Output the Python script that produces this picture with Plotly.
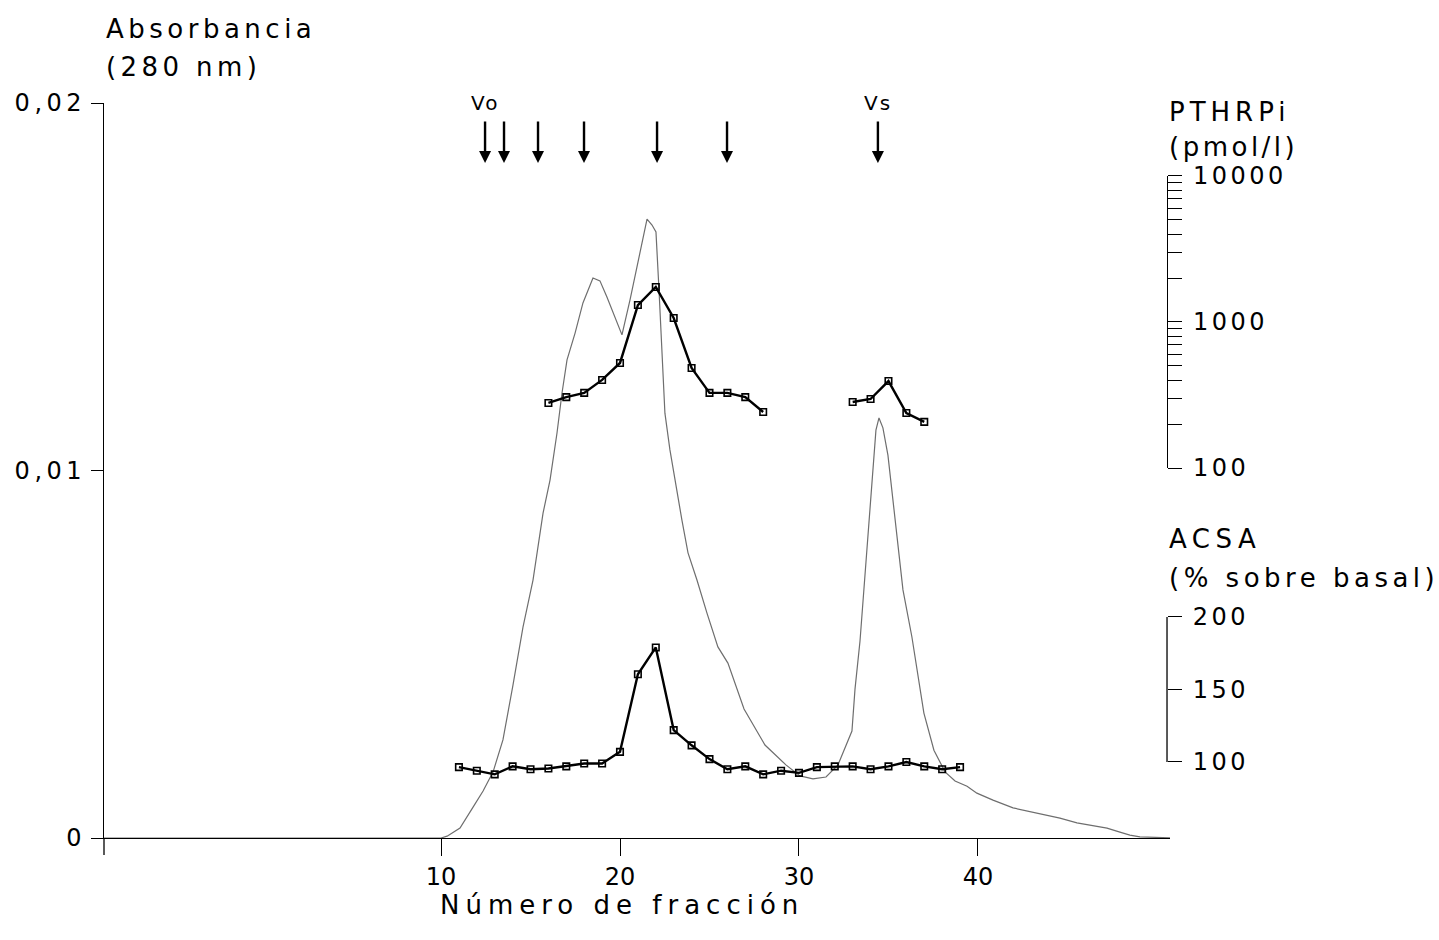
import plotly.graph_objects as go

FONT = "DejaVu Sans"


def spaced(text, ls):
    """Wrap text in a span with extra letter spacing."""
    return f'<span style="letter-spacing:{ls}px">{text}</span>'


# Absorbance (280 nm) profile along the elution
abs_fraction = [-9, 10.0, 10.34, 11.06, 11.79, 12.35, 12.91, 13.46, 14.02, 14.58,
                15.14, 15.70, 16.09, 16.48, 16.76, 17.04, 17.49, 17.93, 18.49, 18.88,
                19.27, 19.72, 20.11, 20.56, 21.01, 21.34, 21.51, 21.79, 22.01, 22.18,
                22.35, 22.51, 22.79, 23.07, 23.46, 23.80, 24.30, 24.86, 25.47, 26.03,
                26.93, 28.10, 29.27, 30.06, 30.78, 31.51, 32.18, 32.96, 33.13, 33.41,
                33.74, 34.08, 34.30, 34.47, 34.69, 34.97, 35.36, 35.81, 36.31, 36.98,
                37.54, 38.16, 38.72, 39.39, 39.94, 40.84, 41.96, 43.63, 44.58, 45.53,
                46.42, 47.21, 47.93, 48.49, 49.05, 51]
abs_value = [0, 0, 0.00005, 0.00027, 0.00084, 0.00128, 0.0018, 0.00267, 0.00416, 0.00574,
             0.00702, 0.00884, 0.00974, 0.01102, 0.01211, 0.01301, 0.01374, 0.01456, 0.01524, 0.01516,
             0.01472, 0.01415, 0.01369, 0.01464, 0.01567, 0.01649, 0.01684, 0.01668, 0.01649, 0.01491,
             0.0132, 0.01156, 0.01056, 0.00974, 0.00865, 0.00776, 0.00702, 0.00612, 0.0052, 0.00476,
             0.00351, 0.00253, 0.00199, 0.00169, 0.00161, 0.00166, 0.00199, 0.00291, 0.00405, 0.00536,
             0.00756, 0.00974, 0.0111, 0.01143, 0.01116, 0.01042, 0.00865, 0.00675, 0.00547, 0.0034,
             0.00239, 0.0018, 0.00155, 0.00141, 0.00122, 0.00103, 0.00082, 0.00063, 0.00054, 0.00041,
             0.00033, 0.00027, 0.00016, 0.00008, 0.00003, 0]

# Immunoreactive PTHrP (pmol/l), two groups of fractions
pthrp_fraction_a = [16, 17, 18, 19, 20, 21, 22, 23, 24, 25, 26, 27, 28]
pthrp_value_a = [279, 306, 327, 401, 524, 1306, 1738, 1065, 484, 327, 327, 306, 242]
pthrp_fraction_b = [33, 34, 35, 36, 37]
pthrp_value_b = [283, 297, 394, 238, 207]

# Adenylate cyclase stimulating activity (% over basal)
acsa_fraction = list(range(11, 40))
acsa_value = [96.5, 94, 91.5, 97, 95, 95.5, 97, 99, 99, 107,
              160.5, 179, 122, 111.5, 102, 95, 97, 91.5, 94, 92.5,
              96.5, 97, 97, 95, 97, 100, 97, 95, 96.5]

# Column calibration markers
marker_fraction = [12.46, 13.52, 15.42, 17.99, 22.07, 25.98, 34.41]
marker_tip = 0.01837
marker_tail = 0.01954
void_label = ("Vo", 12.46)
salt_label = ("Vs", 34.41)

abs_ticks = [0, 0.01, 0.02]
abs_ticktext = ["0", "0,01", "0,02"]
frac_ticks = [10, 20, 30, 40]
pthrp_ticks = [100, 200, 300, 400, 500, 600, 700, 800, 900,
               1000, 2000, 3000, 4000, 5000, 6000, 7000, 8000, 9000, 10000]
pthrp_major = {100: "100", 1000: "1000", 10000: "10000"}
acsa_ticks = [100, 150, 200]

fig = go.Figure()

fig.add_trace(go.Scatter(x=abs_fraction, y=abs_value, mode="lines",
                         line=dict(color="#6e6e6e", width=1.2),
                         xaxis="x", yaxis="y", hoverinfo="skip"))

for fx, fy in [(pthrp_fraction_a, pthrp_value_a), (pthrp_fraction_b, pthrp_value_b)]:
    fig.add_trace(go.Scatter(x=fx, y=fy, mode="lines+markers",
                             line=dict(color="black", width=2.4),
                             marker=dict(symbol="square-open", size=6.5, color="black",
                                         line=dict(width=1.6, color="black")),
                             xaxis="x", yaxis="y2"))

fig.add_trace(go.Scatter(x=acsa_fraction, y=acsa_value, mode="lines+markers",
                         line=dict(color="black", width=2.4),
                         marker=dict(symbol="square-open", size=6.5, color="black",
                                     line=dict(width=1.6, color="black")),
                         xaxis="x", yaxis="y3"))

tickfont = dict(family=FONT, size=24, color="black")

fig.update_layout(
    width=1439, height=940,
    margin=dict(l=104, r=269, t=103, b=102),
    plot_bgcolor="rgba(0,0,0,0)", paper_bgcolor="white",
    showlegend=False,
    font=dict(family=FONT, color="black"),
    xaxis=dict(range=[-8.83, 50.73], tickvals=frac_ticks,
               ticktext=[str(v) for v in frac_ticks],
               ticks="outside", ticklen=17, tickwidth=1.3, tickcolor="black",
               showline=True, linecolor="black", linewidth=1.3,
               showgrid=False, zeroline=False, tickfont=tickfont, anchor="y"),
    yaxis=dict(range=[0, 0.02], tickvals=abs_ticks,
               ticktext=[spaced(t, 4.5) for t in abs_ticktext],
               ticks="outside", ticklen=12, tickwidth=1.3, tickcolor="black",
               showline=True, linecolor="black", linewidth=1.3,
               showgrid=False, zeroline=False, tickfont=tickfont),
    yaxis2=dict(domain=[0.5034, 0.9007], type="log", range=[2, 4],
                anchor="free", position=0.9972, side="right",
                tickvals=pthrp_ticks,
                ticktext=[spaced(pthrp_major.get(v, ""), 3.5) for v in pthrp_ticks],
                ticks="outside", ticklen=14, tickwidth=1.3, tickcolor="black",
                ticklabelstandoff=6,
                showline=True, linecolor="black", linewidth=1.3,
                showgrid=False, zeroline=False, tickfont=tickfont),
    yaxis3=dict(domain=[0, 0.3007], range=[47.59, 200],
                anchor="free", position=0.9972, side="right",
                tickvals=acsa_ticks,
                ticktext=[spaced(str(v), 3.5) for v in acsa_ticks],
                ticks="outside", ticklen=14, tickwidth=1.3, tickcolor="black",
                ticklabelstandoff=6,
                showline=False, showgrid=False, zeroline=False, tickfont=tickfont),
)

# ACSA axis spine only over its 100-200 span
fig.add_shape(type="line", xref="paper", yref="y3", x0=0.9972, x1=0.9972,
              y0=100, y1=200, line=dict(color="black", width=1.3))
# left spine continues a little below zero
fig.add_shape(type="line", xref="paper", yref="paper", x0=0, x1=0,
              y0=0, y1=-17 / 735, line=dict(color="black", width=1.3))

# calibration arrows
for f in marker_fraction:
    fig.add_annotation(x=f, y=marker_tip, ax=f, ay=marker_tail,
                       xref="x", yref="y", axref="x", ayref="y",
                       text="", showarrow=True, arrowhead=2, arrowsize=1.0,
                       arrowwidth=2.4, arrowcolor="black", standoff=0)
for label, f in (void_label, salt_label):
    fig.add_annotation(x=f, y=0.02, xref="x", yref="y", text=spaced(label, 2),
                       showarrow=False, font=dict(family=FONT, size=20, color="black"),
                       xanchor="center", yanchor="middle")

title_font = dict(family=FONT, size=26, color="black")
titles = [
    ("Absorbancia", 4.5, 104, 29),
    ("(280 nm)", 4.4, 104, 67),
    ("PTHRPi", 5, 1167, 112),
    ("(pmol/l)", 3.5, 1167, 147),
    ("ACSA", 5.5, 1167, 539),
    ("(% sobre basal)", 4.5, 1167, 578),
]
for text, ls, px, py in titles:
    fig.add_annotation(x=(px - 104) / 1066, y=(838 - py) / 735, xref="paper", yref="paper",
                       text=spaced(text, ls), showarrow=False, font=title_font,
                       xanchor="left", yanchor="middle")

fig.add_annotation(x=(622 - 104) / 1066, y=(838 - 905) / 735, xref="paper", yref="paper",
                   text=spaced("Número de fracción", 6), showarrow=False, font=title_font,
                   xanchor="center", yanchor="middle")

fig.write_html("out.html")
